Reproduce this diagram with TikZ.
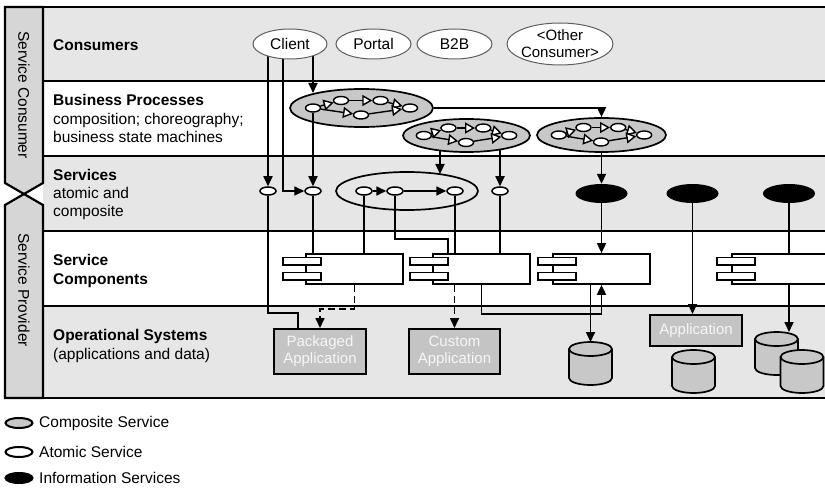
\documentclass[tikz,border=0pt]{standalone}
\usepackage{fontspec}
\setmainfont{Liberation Sans}
\usetikzlibrary{arrows.meta,shapes.geometric}
\pgfdeclarelayer{rows}
\pgfdeclarelayer{wires}
\pgfsetlayers{rows,wires,main}

\definecolor{rowgray}{RGB}{230,230,230}
\definecolor{sidegray}{RGB}{214,214,214}
\definecolor{procgray}{RGB}{200,200,200}
\definecolor{boxgray}{RGB}{196,196,196}
\definecolor{boxtext}{RGB}{246,246,246}
\definecolor{dbgray}{RGB}{200,200,200}
\definecolor{outlinegray}{RGB}{95,95,95}

\tikzset{
  txt/.style={font=\fontsize{15.5}{19}\selectfont},
  rowlabel/.style={txt, anchor=base west, inner sep=0pt},
  frameline/.style={line width=2.2pt},
  wire/.style={line width=1.7pt},
  arr/.style={wire, -{Triangle[length=10pt,width=9pt]}},
  dasharr/.style={arr, dash pattern=on 7pt off 4pt},
  consumer/.style={ellipse, draw=outlinegray, line width=1pt, fill=white,
    inner sep=0pt, txt, align=center, minimum height=30pt},
  atomic/.style={ellipse, draw, line width=1.5pt, fill=white,
    minimum width=16pt, minimum height=8pt, inner sep=0pt},
  info/.style={ellipse, fill=black, minimum width=52pt, minimum height=19pt, inner sep=0pt},
  process/.style={ellipse, draw, line width=1.7pt, fill=procgray, inner sep=0pt},
  fnode/.style={ellipse, draw, line width=1.4pt, fill=white,
    minimum width=15pt, minimum height=8pt, inner sep=0pt},
  fstep/.style={line width=1.4pt, -{Triangle[length=10pt,width=11pt,fill=white]}},
  compbox/.style={rectangle, draw, line width=1.7pt, fill=white,
    minimum width=97pt, minimum height=30pt, inner sep=0pt},
  comptab/.style={rectangle, draw, line width=1.5pt, fill=white,
    minimum width=38pt, minimum height=7.5pt, inner sep=0pt},
  appbox/.style={rectangle, draw, line width=2pt, fill=boxgray, text=boxtext,
    align=center, inner sep=0pt, font=\fontsize{15}{17}\selectfont},
  legend/.style={ellipse, draw, line width=2pt, minimum width=27pt,
    minimum height=10pt, inner sep=0pt},
  % process flow drawn inside a composite (business process) ellipse
  flow/.pic={
    \node[fnode] (-l) at (-48.5,0) {};
    \node[fnode] (-a) at (-20.5,-7.5) {};
    \node[fnode] (-b) at (19,-7.5) {};
    \node[fnode] (-c) at (-0.5,7) {};
    \node[fnode] (-r) at (48.5,0) {};
    \draw[fstep] (-l) -- (-a);
    \draw[fstep] (-a) -- (-b);
    \draw[fstep] (-b) -- (-r);
    \draw[fstep] (-l) -- (-c);
    \draw[fstep] (-c) -- (-r);
  },
  % UML-style component symbols (tabs set further out or further in)
  component/.pic={
    \node[compbox] (-box) at (0,0) {};
    \node[comptab] (-t1) at (-52.5,-7.5) {};
    \node[comptab] (-t2) at (-52.5,7.5) {};
  },
  componentin/.pic={
    \node[compbox] (-box) at (0,0) {};
    \node[comptab] (-t1) at (-44.5,-7.5) {};
    \node[comptab] (-t2) at (-44.5,7.5) {};
  },
  % database cylinder, origin at the top of its lid
  datastore/.pic={
    \coordinate (-top) at (0,0);
    \draw[line width=1.7pt, fill=dbgray] (-21.5,7) -- (-21.5,36)
      arc[start angle=180, end angle=0, x radius=21.5, y radius=7] -- (21.5,7)
      arc[start angle=0, end angle=-180, x radius=21.5, y radius=7] -- cycle;
    \draw[line width=1.7pt] (-21.5,7)
      arc[start angle=180, end angle=0, x radius=21.5, y radius=7];
  }
}

\begin{document}
\begin{tikzpicture}[x=1pt,y=-1pt]
\useasboundingbox (0,0) rectangle (825,489);

% layer bands and frame
\begin{pgfonlayer}{rows}
  \fill[rowgray] (43,7) rectangle (830,81);
  \fill[white] (43,81) rectangle (830,156);
  \fill[rowgray] (43,156) rectangle (830,231);
  \fill[white] (43,231) rectangle (830,306);
  \fill[rowgray] (43,306) rectangle (830,398);
  \draw[frameline] (43,81) -- (830,81) (43,156) -- (830,156)
                   (43,231) -- (830,231) (43,306) -- (830,306);
  \draw[frameline] (5,7) -- (830,7) (5,398) -- (830,398);
  \draw[frameline, fill=sidegray] (5,7) -- (43,7) -- (43,183) -- (24,194) -- (5,183) -- cycle;
  \draw[frameline, fill=sidegray] (5,205) -- (24,194) -- (43,205) -- (43,398) -- (5,398) -- cycle;
\end{pgfonlayer}

% side captions
\node[txt, rotate=-90] (consumerside) at (24,95) {Service Consumer};
\node[txt, rotate=-90] (providerside) at (24,290) {Service Provider};

% row captions
\node[rowlabel] (r1) at (53,50.5) {\bfseries Consumers};
\node[rowlabel] (r2a) at (53,105.5) {\bfseries Business Processes};
\node[rowlabel] (r2b) at (53,124.5) {composition; choreography;};
\node[rowlabel] (r2c) at (53,142.5) {business state machines};
\node[rowlabel] (r3a) at (53,180.5) {\bfseries Services};
\node[rowlabel] (r3b) at (53,198.5) {atomic and};
\node[rowlabel] (r3c) at (53,217) {composite};
\node[rowlabel] (r4a) at (53,265.5) {\bfseries Service};
\node[rowlabel] (r4b) at (53,284) {\bfseries Components};
\node[rowlabel] (r5a) at (53,340.5) {\bfseries Operational Systems};
\node[rowlabel] (r5b) at (53,359) {(applications and data)};

% consumers
\node[consumer, minimum width=74pt] (cl) at (290,44) {Client};
\node[consumer, minimum width=75pt] (po) at (373.5,44) {Portal};
\node[consumer, minimum width=75pt] (bb) at (454.5,44) {B2B};
\node[consumer, minimum width=106pt, minimum height=42pt, inner xsep=-12pt,
      inner ysep=-8pt, font=\fontsize{15}{17}\selectfont] (oc) at (560,44) {<Other\\Consumer>};

% business processes
\node[process, minimum width=143pt, minimum height=38pt] (pA) at (361.5,108) {};
\pic (fA) at (pA.center) {flow};
\node[process, minimum width=127pt, minimum height=33pt] (pB) at (466.5,135.5) {};
\pic[xscale=0.88] (fB) at (pB.center) {flow};
\node[process, minimum width=129pt, minimum height=34pt] (pC) at (601.5,135) {};
\pic[xscale=0.88] (fC) at (pC.center) {flow};

% services
\node[atomic] (a1) at (268,191) {};
\node[atomic] (a2) at (313,191) {};
\node[ellipse, draw, line width=1.7pt, minimum width=142pt, minimum height=38pt,
      inner sep=0pt] (svc) at (407,191) {};
\node[atomic] (s1) at (364,191) {};
\node[atomic] (s2) at (395,191) {};
\node[atomic] (s3) at (455,191) {};
\node[atomic] (a3) at (500,191) {};
\node[info] (i1) at (601.5,193.5) {};
\node[info] (i2) at (692.5,193.5) {};
\node[info] (i3) at (789,193.5) {};

% service components
\pic (k1) at (354.5,269) {component};
\pic (k2) at (481.5,269) {component};
\pic (k3) at (601.5,269) {componentin};
\pic (k4) at (780.5,269) {componentin};

% operational systems
\node[appbox, minimum width=92pt, minimum height=45pt] (pkg) at (320,351.5) {Packaged\\Application};
\node[appbox, minimum width=91pt, minimum height=45pt] (cust) at (454.5,351.5) {Custom\\Application};
\node[appbox, minimum width=92pt, minimum height=31pt] (app) at (696,330.5) {Application};
\pic (d1) at (590.5,342) {datastore};
\pic (d2) at (693.5,350) {datastore};
\pic (d3) at (776.5,332) {datastore};
\pic (d4) at (802,350) {datastore};

% legend
\node[legend, fill=procgray] (lg1) at (19,423) {};
\node[legend, fill=white] (lg2) at (19,452) {};
\node[legend, fill=black] (lg3) at (19,478) {};
\node[txt, anchor=west, inner sep=0pt] (lt1) at (39,423) {Composite Service};
\node[txt, anchor=west, inner sep=0pt] (lt2) at (39,452) {Atomic Service};
\node[txt, anchor=west, inner sep=0pt] (lt3) at (39,478) {Information Services};

% helper points
\coordinate (cl283) at (283,44);
\coordinate (svcIn) at (440,174);
\coordinate (bendA) at (298,313);
\coordinate (bendB) at (448,239);

% connectors leaving filled shapes from behind
\begin{pgfonlayer}{wires}
  \draw[arr] (cl.center -| a1) -- (a1.north);
  \draw[arr] (cl283) |- (a2.west);
  \draw[arr] (cl.center -| fA-l) -- ([yshift=15pt]fA-l.center);
  \draw[arr] (pB.center -| svcIn) -- (svcIn);
  \draw[arr] (pB.center -| a3) -- (a3.north);
  \draw[arr] (pC.center) -- (i1.north);
\end{pgfonlayer}

\draw[arr] (pA.east) -| (pC.north);
\draw[arr] (fA-l.south) -- (a2.north);
\draw[arr] (s1) -- (s2);
\draw[arr] (s2) -- (s3);

\draw[wire] (a1.south) |- (bendA) -- (bendA |- pkg.north);
\draw[wire] (a2.south) -- (a2 |- k1-box.north);
\draw[wire] (s1.south) -- (s1 |- k1-box.north);
\draw[wire] (s2.south) |- (bendB) -- (bendB |- k2-box.north);
\draw[wire] (s3.south) -- (s3 |- k2-box.north);
\draw[wire] (a3.south) -- (a3 |- k2-box.north);
\draw[arr] (i1.south) -- (i1 |- k3-box.north);
\draw[arr] (i2.south) -- (i2 |- app.north);
\draw[wire] (i3.south) -- (i3 |- k4-box.north);
\draw[arr] (i3 |- k4-box.south) -- (i3 |- d3-top);

\draw[dasharr] (k1-box.south) -- ++(0,24) -| (pkg.north);
\draw[dasharr] (cust.north |- k2-box.south) -- (cust.north);
\draw[arr] (k2-box.south) -- ++(0,29) -| (k3-box.south);
\draw[arr] (d1-top |- k3-box.south) -- (d1-top);
\end{tikzpicture}
\end{document}
